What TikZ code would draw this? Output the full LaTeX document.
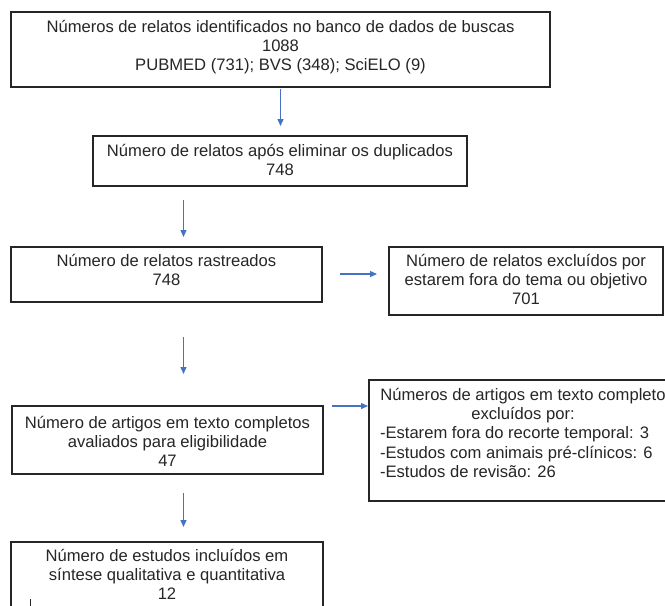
\documentclass[tikz,border=0pt]{standalone}
\usepackage{fontspec}
\setmainfont{Liberation Sans}
\usetikzlibrary{arrows.meta}
\definecolor{arrblue}{HTML}{4472C4}
\definecolor{ink}{HTML}{262626}
\tikzset{
  box/.style={draw=black!85, line width=1.4pt, inner sep=0pt, outer sep=0pt, anchor=north west},
  txt/.style={inner sep=0pt, outer sep=0pt, text=ink, font=\fontsize{16.6}{19.2}\selectfont},
  ctxt/.style={txt, align=center, anchor=north},
  ltxt/.style={txt, align=left, anchor=north west},
  arr/.style={draw=arrblue, line width=1.3pt, -{Triangle[length=7pt,width=6pt]}}
}
\begin{document}
\begin{tikzpicture}[x=1pt,y=-1pt]
\useasboundingbox (0,0) rectangle (665,606);
\clip (0,0) rectangle (665,606);
\fill[white] (0,0) rectangle (665,606);

% boxes
\node[box, minimum width=539pt, minimum height=75pt] (b1) at (11,12) {};
\node[box, minimum width=374pt, minimum height=50pt] (b2) at (93,136) {};
\node[box, minimum width=311pt, minimum height=55pt] (b3) at (11,247) {};
\node[box, minimum width=274pt, minimum height=68pt] (r1) at (389,247) {};
\node[box, minimum width=311pt, minimum height=68pt] (b5) at (12,406) {};
\node[box, minimum width=308pt, minimum height=121pt] (r2) at (369,380) {};
\node[box, minimum width=312pt, minimum height=80pt] (b7) at (11,542) {};

% texts
\node[ctxt] (t1) at ([yshift=-7pt]b1.north) {\strut Números de relatos identificados no banco de dados de buscas\\1088\\PUBMED (731); BVS (348); SciELO (9)};
\node[ctxt] (t2) at ([yshift=-7pt]b2.north) {\strut Número de relatos após eliminar os duplicados\\748};
\node[ctxt] (t3) at ([yshift=-6pt]b3.north) {\strut Número de relatos rastreados\\748};
\node[ctxt] (t4) at ([yshift=-6pt]r1.north) {\strut Número de relatos excluídos por\\estarem fora do tema ou objetivo\\701};
\node[ctxt] (t5) at ([yshift=-9pt]b5.north) {\strut Número de artigos em texto completos\\avaliados para eligibilidade\\47};
\node[ctxt] (t6a) at (523,387) {\strut Números de artigos em texto completo\\excluídos por:};
\node[ltxt] (t6b) at (380,425.4) {\strut -Estarem fora do recorte temporal: 3\\-Estudos com animais pré-clínicos: 6\\-Estudos de revisão: 26};
\node[ctxt] (t7) at ([yshift=-6pt]b7.north) {\strut Número de estudos incluídos em\\síntese qualitativa e quantitativa\\12};

% connectors
\coordinate (vx) at (183.5,0);
\coordinate (hy1) at (0,274);
\coordinate (hy2) at (0,406);
\draw[arr, shorten <=2pt, shorten >=10pt] (b1.south) -- (b1.south |- b2.north);
\draw[arr, shorten <=14pt, shorten >=10pt] (b2.south -| vx) -- (b3.north -| vx);
\draw[arr, shorten <=35pt, shorten >=32pt] (b3.south -| vx) -- (b5.north -| vx);
\draw[arr, shorten <=19pt, shorten >=15pt] (b5.south -| vx) -- (b7.north -| vx);
\draw[arr, shorten <=18pt, shorten >=12pt] (b3.east |- hy1) -- (r1.west |- hy1);
\draw[arr, shorten <=9pt, shorten >=1pt] (b5.east |- hy2) -- (r2.west |- hy2);

% small mark inside the last box
\draw[black!85, line width=1pt] (30,599) -- (30,606);
\end{tikzpicture}
\end{document}
